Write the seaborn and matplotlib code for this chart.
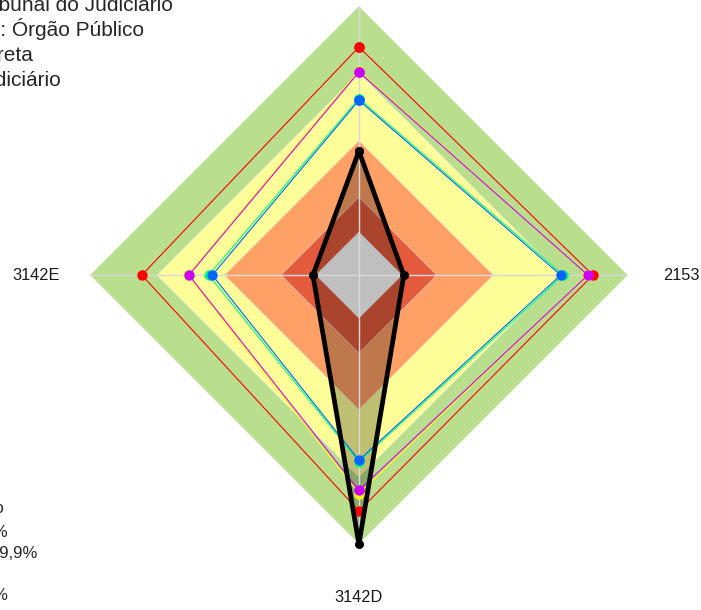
import numpy as np
import pandas as pd
import matplotlib
matplotlib.use('Agg')
import matplotlib.pyplot as plt
import seaborn as sns

# axes of the radar, clockwise from the top
axis_labels = ['3142C', '2153', '3142D', '3142E']

# series (values per axis: top, right, bottom, left)
series_names = ['Média Geral',
                'Média: Administração Pública Federal',
                'Média: Tribunal do Judiciário',
                'Média do Segmento: Órgão Público',
                'Administração Direta',
                'Poder Judiciário']
red_vals = [0.848, 0.870, 0.877, 0.807]
magenta_vals = [0.755, 0.851, 0.800, 0.632]
yellow_vals = [0.760, 0.849, 0.812, 0.636]
green_vals = [0.656, 0.760, 0.694, 0.558]
blue_vals = [0.650, 0.750, 0.688, 0.545]
org_name = 'Organização'
org_vals = [0.461, 0.167, 1.0, 0.171]

series_vals = [red_vals, magenta_vals, yellow_vals, green_vals, blue_vals]
series_colors = ['#ff0000', '#cc00ff', '#ffff00', '#00ff80', '#0066ff']

# capability bands (outer limit of each)
band_limits = [1.0, 0.75, 0.50, 0.29, 0.16]
band_colors = ['#b8de8e', '#ffff99', '#ffa066', '#e35b3c', '#ffffff']

band_labels = ['Estágio',
               'Aprimorado: 70 a 100%',
               'Intermediário: 40 a 69,9%',
               'Iniciando: 15 a 39',
               'Inexpressivo: 0 a 14,9%']

sns.set_theme(style='white')
plt.rcParams['font.family'] = ['Liberation Sans', 'DejaVu Sans']

theta = np.arange(len(axis_labels)) * 2 * np.pi / len(axis_labels)
theta_c = np.append(theta, theta[0])

fig = plt.figure(figsize=(7.01, 6.10), dpi=100)
ax = fig.add_axes([0.128, 0.108, 0.768, 0.882], projection='polar')
ax.set_theta_zero_location('N')
ax.set_theta_direction(-1)
ax.set_ylim(0, 1)

# bands
for lim, col in zip(band_limits, band_colors):
    ax.fill(theta_c, [lim] * len(theta_c), facecolor=col,
            edgecolor=(1, 1, 1, 0.45), lw=0.7, zorder=1, clip_on=False)

# organisation shaded area
org_c = org_vals + org_vals[:1]
ax.fill(theta_c, org_c, color='black', alpha=0.25, lw=0, zorder=2, clip_on=False)

# spokes
for t in theta:
    ax.plot([t, t], [0, 1], color='#d9d9d9', lw=1.0, zorder=3)

# series lines
rows = []
for name, vals in zip(series_names[1:], series_vals):
    closed = vals + vals[:1]
    for i, (t, v) in enumerate(zip(theta_c, closed)):
        rows.append({'Serie': name, 'theta': t, 'r': v, 'i': i})
df = pd.DataFrame(rows)
palette = dict(zip(series_names[1:], series_colors))
hue_order = [series_names[1], series_names[3], series_names[2],
             series_names[4], series_names[5]]
sns.lineplot(data=df, x='theta', y='r', hue='Serie', hue_order=hue_order,
             palette=palette, sort=False, estimator=None, lw=0.8,
             marker='o', markersize=7.5, markeredgewidth=0,
             legend=False, ax=ax, zorder=4, clip_on=False)

org_df = pd.DataFrame({'theta': theta_c, 'r': org_c})
sns.lineplot(data=org_df, x='theta', y='r', sort=False, estimator=None,
             color='black', lw=3.4, marker='o', markersize=6.5,
             markeredgewidth=0, ax=ax, zorder=5, clip_on=False)

ax.set_xticks([])
ax.set_yticks([])
ax.grid(False)
ax.spines['polar'].set_visible(False)
ax.set_xlabel('')
ax.set_ylabel('')

for t, lab in zip(theta, axis_labels):
    ax.text(t, 1.2, lab, ha='center', va='center', fontsize=11.8, color='#1a1a1a')

# legend of series (top left, partly outside the figure)
top_names = series_names
top_ends = [150, 160, 173, 144, 33, 61]
top_base = [-39, -14, 11, 36, 61, 86]
for s, xe, yb in zip(top_names, top_ends, top_base):
    fig.text(xe / 701, 1 - yb / 610, s, ha='right', va='baseline', fontsize=15)

# legend of bands (bottom left, partly outside the figure)
bot_ends = [4, 8, 37, -5, 8]
bot_base = [513, 537, 558, 579, 600]
for s, xe, yb in zip(band_labels, bot_ends, bot_base):
    fig.text(xe / 701, 1 - yb / 610, s, ha='right', va='baseline', fontsize=12)

fig.savefig('out.png', dpi=100)
